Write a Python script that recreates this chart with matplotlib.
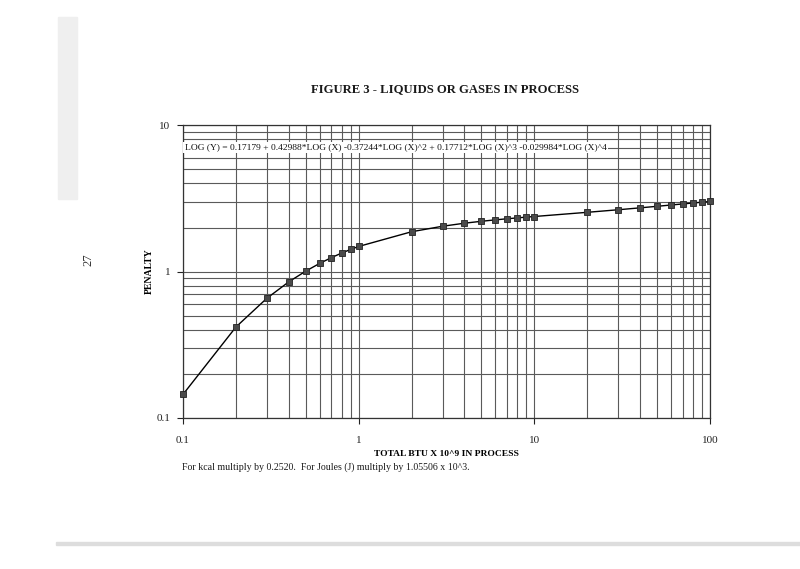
import numpy as np
import matplotlib.pyplot as plt
from matplotlib.patches import Rectangle

# total BTU x 10^9 and penalty
btu = [0.1, 0.2, 0.3, 0.4, 0.5, 0.6, 0.7, 0.8, 0.9, 1,
       2, 3, 4, 5, 6, 7, 8, 9, 10,
       20, 30, 40, 50, 60, 70, 80, 90, 100]
penalty = [0.145, 0.418, 0.657, 0.851, 1.008, 1.138, 1.246, 1.338, 1.417, 1.485,
           1.871, 2.040, 2.140, 2.206, 2.256, 2.295, 2.327, 2.355, 2.378,
           2.540, 2.644, 2.725, 2.792, 2.849, 2.898, 2.941, 2.979, 3.011]

title = 'FIGURE 3 - LIQUIDS OR GASES IN PROCESS'
equation = ('LOG (Y) = 0.17179 + 0.42988*LOG (X) -0.37244*LOG (X)^2 + '
            '0.17712*LOG (X)^3 -0.029984*LOG (X)^4')
note = 'For kcal multiply by 0.2520.  For Joules (J) multiply by 1.05506 x 10^3.'

plt.rcParams['font.family'] = ['Liberation Serif', 'DejaVu Serif']

fig = plt.figure(figsize=(8, 5.69), dpi=100)
ax = fig.add_axes([0.2288, 0.2654, 0.6587, 0.5146])

ax.plot(btu, penalty, color='black', lw=1.0, marker='s', ms=4.5,
        mfc='#4a4a4a', mec='#222222', mew=0.6, clip_on=False, zorder=5)
ax.set_xscale('log')
ax.set_yscale('log')
ax.set_xlim(0.1, 100)
ax.set_ylim(0.1, 10)

ax.set_xticks([0.1, 1, 10, 100])
ax.set_xticklabels(['0.1', '1', '10', '100'])
ax.set_yticks([0.1, 1, 10])
ax.set_yticklabels(['0.1', '1', '10'])
ax.minorticks_off()
grid_col = '#5a5a5a'
ax.grid(True, which='major', color=grid_col, lw=0.8)
# 2..9 lines inside each decade
for d in [0.1, 1, 10]:
    for k in range(2, 10):
        ax.axvline(d * k, color=grid_col, lw=0.8, zorder=0.5)
for d in [0.1, 1]:
    for k in range(2, 10):
        ax.axhline(d * k, color=grid_col, lw=0.8, zorder=0.5)
ax.set_axisbelow(True)
ax.tick_params(axis='both', which='major', direction='out', length=4,
               width=0.8, labelsize=8, colors='#222222')
ax.tick_params(axis='x', pad=9)
ax.tick_params(axis='y', pad=5)
for s in ax.spines.values():
    s.set_color('#333333')
    s.set_linewidth(0.9)

ax.text(0.003, 0.925, equation, transform=ax.transAxes, fontsize=6.8,
        va='center', ha='left', color='#111111',
        bbox=dict(facecolor='white', edgecolor='none', pad=1.0))

ax.set_ylabel('PENALTY', fontsize=7.0, fontweight='bold', labelpad=0)
ax.yaxis.set_label_coords(-0.055, 0.5)
ax.set_xlabel('TOTAL BTU X 10^9 IN PROCESS', fontsize=6.8, fontweight='bold')
ax.xaxis.set_label_coords(0.5, -0.11)

fig.text(0.556, 0.843, title, ha='center', va='center', fontsize=9.1,
         fontweight='bold', color='#1a1a1a')
fig.text(0.228, 0.179, note, ha='left', va='center', fontsize=7.1,
         color='#1a1a1a')
fig.text(0.111, 0.543, '27', ha='center', va='center', fontsize=9,
         rotation=90, color='#333333')

# scanner marks
fig.patches.append(Rectangle((0.072, 0.65), 0.024, 0.32, transform=fig.transFigure,
                             color='#efefef', zorder=0))
fig.patches.append(Rectangle((0.07, 0.042), 0.93, 0.005, transform=fig.transFigure,
                             color='#dddddd', zorder=0))

fig.savefig('out.png', dpi=100)
